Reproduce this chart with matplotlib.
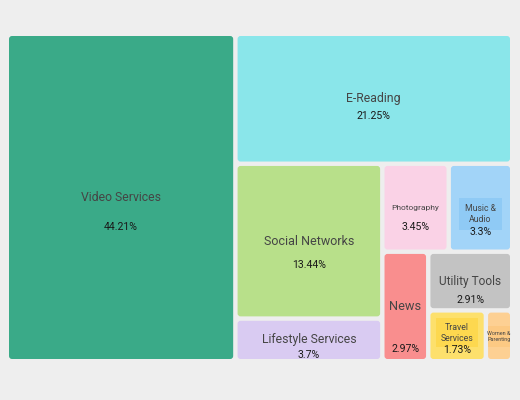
import numpy as np
import matplotlib
matplotlib.use("Agg")
import matplotlib.pyplot as plt
from matplotlib.patches import FancyBboxPatch, Rectangle

plt.rcParams['font.family'] = ['Roboto', 'DejaVu Sans']

# данные
categories = ["Video Services", "E-Reading", "Social Networks", "Lifestyle Services",
              "Photography", "Music & Audio", "News", "Utility Tools",
              "Travel Services", "Women & Parenting"]
shares = [44.21, 21.25, 13.44, 3.7, 3.45, 3.3, 2.97, 2.91, 1.73, 0.79]
pct_labels = ["44.21%", "21.25%", "13.44%", "3.7%", "3.45%", "3.3%", "2.97%",
              "2.91%", "1.73%", ""]

# оформлення
colors = ["#3aaa88", "#8ae6ea", "#b8e08a", "#d9cbf2", "#fad2e6", "#a2d4f8",
          "#f98e8e", "#c3c3c3", "#fde06c", "#fdd093"]
label_bg = [None, None, None, None, None, "#8fcaf5", None, None, "#fdd84f", "#fcc983"]
name_text = ["Video Services", "E-Reading", "Social Networks", "Lifestyle Services",
             "Photography", "Music &\nAudio", "News", "Utility Tools",
             "Travel\nServices", "Women &\nParenting"]
name_size = [8.8, 8.8, 9.0, 8.8, 6.0, 6.2, 9.2, 8.6, 6.3, 4.0]
name_dy = [0, 0, 0, 0, 0, 6, 0, 0, -3, 1]
pct_dy = [29.5, 17, 24, 15, 19, 24, 43, 19, 14, 0]
bg_pad = [0, 0, 0, 0, 0, 6, 0, 0, 4.5, 5]


def binary(values, x0, y0, x1, y1):
    # розбиття як у d3.treemapBinary
    sums = np.concatenate([[0], np.cumsum(values)])
    rects = [None] * len(values)

    def part(i, j, value, x0, y0, x1, y1):
        if i >= j - 1:
            rects[i] = (x0, y0, x1, y1)
            return
        target = value / 2 + sums[i]
        k, hi = i + 1, j - 1
        while k < hi:
            mid = (k + hi) // 2
            if sums[mid] < target:
                k = mid + 1
            else:
                hi = mid
        if target - sums[k - 1] < sums[k] - target and i + 1 < k:
            k -= 1
        vl = sums[k] - sums[i]
        vr = value - vl
        if x1 - x0 > y1 - y0:
            xk = (x0 * vr + x1 * vl) / value
            part(i, k, vl, x0, y0, xk, y1)
            part(k, j, vr, xk, y0, x1, y1)
        else:
            yk = (y0 * vr + y1 * vl) / value
            part(i, k, vl, x0, y0, x1, yk)
            part(k, j, vr, x0, yk, x1, y1)

    part(0, len(values), sums[-1], x0, y0, x1, y1)
    return rects


fig = plt.figure(figsize=(5.2, 4), dpi=100, facecolor="#eeeeee")
ax = fig.add_axes([0, 0, 1, 1])
ax.set_xlim(0, 520)
ax.set_ylim(400, 0)
ax.axis("off")
renderer = fig.canvas.get_renderer()
inv = ax.transData.inverted()

pad = 2.2
rects = binary(shares, 6.8, 33.8, 512.2, 361.2)
for i, (x0, y0, x1, y1) in enumerate(rects):
    w = x1 - x0 - 2 * pad
    h = y1 - y0 - 2 * pad
    cell = FancyBboxPatch((x0 + pad, y0 + pad), w, h,
                          boxstyle="round,pad=0,rounding_size=3",
                          facecolor=colors[i], edgecolor="none")
    ax.add_patch(cell)
    cx = (x0 + x1) / 2
    cy = (y0 + y1) / 2
    t = ax.text(cx, cy + name_dy[i], name_text[i], ha="center", va="center",
                fontsize=name_size[i], color="#454545", linespacing=1.3, zorder=3)
    if label_bg[i]:
        # фон підпису, обрізаний по клітинці
        ext = t.get_window_extent(renderer)
        (bx0, by0), (bx1, by1) = inv.transform([[ext.x0, ext.y0], [ext.x1, ext.y1]])
        p = bg_pad[i]
        bg = Rectangle((bx0 - p, by1 - p), bx1 - bx0 + 2 * p, by0 - by1 + 2 * p,
                       facecolor=label_bg[i], edgecolor="none", zorder=2)
        ax.add_patch(bg)
        bg.set_clip_path(cell)
    if pct_labels[i]:
        ax.text(cx, cy + pct_dy[i], pct_labels[i], ha="center", va="center",
                fontsize=7.6, color="#1a1a1a", zorder=3)

fig.savefig("out.png", dpi=100, facecolor=fig.get_facecolor())
